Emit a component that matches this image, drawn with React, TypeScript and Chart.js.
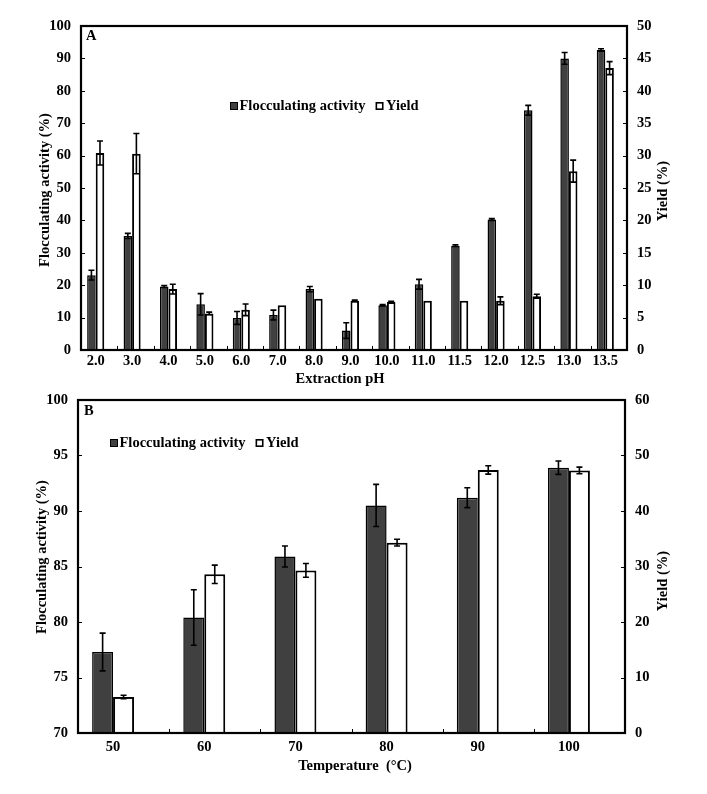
import React, { useEffect, useRef } from 'react';
import { Chart, registerables } from 'chart.js';

Chart.register(...registerables);

// ---------- Panel A data ----------
const phLabels = ['2.0', '3.0', '4.0', '5.0', '6.0', '7.0', '8.0', '9.0', '10.0', '11.0', '11.5', '12.0', '12.5', '13.0', '13.5'];
const flocA = [23.1, 35.2, 19.6, 14.1, 9.9, 10.8, 18.8, 6.0, 13.8, 20.3, 32.2, 40.3, 74.0, 90.0, 92.6];
const flocAErr = [1.5, 0.8, 0.3, 3.3, 2.0, 1.5, 0.8, 2.4, 0.2, 1.5, 0.3, 0.3, 1.5, 1.8, 0.4];
const yieldA = [30.4, 30.3, 9.4, 5.65, 6.2, 6.9, 7.9, 7.6, 7.4, 7.6, 7.6, 7.6, 8.3, 27.6, 43.5];
const yieldAErr = [1.85, 3.1, 0.75, 0.2, 0.9, 0, 0, 0.1, 0.1, 0, 0, 0.6, 0.3, 1.7, 1.0];
const leftTicksA = [0, 100, 10];
const rightTicksA = [0, 50, 5];

// ---------- Panel B data ----------
const tempLabels = ['50', '60', '70', '80', '90', '100'];
const flocB = [77.3, 80.4, 85.9, 90.5, 91.2, 93.9];
const flocBErr = [1.7, 2.5, 0.95, 1.9, 0.9, 0.6];
const yieldB = [6.5, 28.6, 29.3, 34.3, 47.4, 47.3];
const yieldBErr = [0.3, 1.65, 1.25, 0.6, 0.75, 0.6];
const leftTicksB = [70, 100, 5];
const rightTicksB = [0, 60, 10];

const SERIF = '"Liberation Serif", "Times New Roman", serif';
const FS = 14.5;
const boldFont = `bold ${FS}px ${SERIF}`;
const DARK = '#404040';

type PanelCfg = {
  top: number;
  width: number;
  height: number;
  labels: string[];
  floc: number[];
  flocErr: number[];
  yld: number[];
  yldErr: number[];
  left: number[];
  right: number[];
  shift: number;
  catPct: number;
  padTop: number;
  leftW: number;
  rightW: number;
  xH: number;
  xPad: number;
  letter: string;
  letterPos: [number, number];
  legendPos: [number, number];
  leftTitlePos: [number, number];
  rightTitlePos: [number, number];
  xTitle: string;
  xTitlePos: [number, number];
  cap: number;
};

function makePlugin(cfg: PanelCfg) {
  return {
    id: 'decor' + cfg.letter,
    afterDatasetsDraw(chart: any) {
      const ctx = chart.ctx;
      const errs = [cfg.flocErr, cfg.yldErr];
      ctx.save();
      ctx.strokeStyle = '#000';
      ctx.lineWidth = 1.6;
      chart.data.datasets.forEach((ds: any, di: number) => {
        const meta = chart.getDatasetMeta(di);
        const ys = chart.scales[ds.yAxisID];
        meta.data.forEach((el: any, i: number) => {
          const e = errs[di][i];
          if (!e) return;
          const v = ds.data[i].y;
          const y1 = ys.getPixelForValue(v + e);
          const y2 = ys.getPixelForValue(v - e);
          const x = el.x;
          ctx.beginPath();
          ctx.moveTo(x, y1);
          ctx.lineTo(x, y2);
          ctx.moveTo(x - cfg.cap, y1);
          ctx.lineTo(x + cfg.cap, y1);
          ctx.moveTo(x - cfg.cap, y2);
          ctx.lineTo(x + cfg.cap, y2);
          ctx.stroke();
        });
      });
      ctx.restore();
    },
    afterDraw(chart: any) {
      const ctx = chart.ctx;
      const a = chart.chartArea;
      ctx.save();
      // frame
      ctx.strokeStyle = '#000';
      ctx.lineWidth = 2.2;
      ctx.strokeRect(a.left, a.top, a.right - a.left, a.bottom - a.top);
      // inward ticks
      ctx.lineWidth = 1;
      const yl = chart.scales.yL;
      const yr = chart.scales.yR;
      const xs = chart.scales.x;
      ctx.beginPath();
      yl.ticks.forEach((t: any) => {
        const y = Math.round(yl.getPixelForValue(t.value)) + 0.5;
        ctx.moveTo(a.left, y);
        ctx.lineTo(a.left + 4, y);
      });
      yr.ticks.forEach((t: any) => {
        const y = Math.round(yr.getPixelForValue(t.value)) + 0.5;
        ctx.moveTo(a.right, y);
        ctx.lineTo(a.right - 4, y);
      });
      for (let k = 1; k < cfg.labels.length; k++) {
        const x = Math.round(xs.getPixelForValue(xs.min + k)) + 0.5;
        ctx.moveTo(x, a.bottom);
        ctx.lineTo(x, a.bottom - 4);
      }
      ctx.stroke();

      // texts
      ctx.fillStyle = '#000';
      ctx.font = boldFont;
      ctx.textBaseline = 'middle';
      ctx.textAlign = 'left';
      ctx.fillText(cfg.letter, cfg.letterPos[0], cfg.letterPos[1]);

      // legend
      const [lx, ly] = cfg.legendPos;
      const sq = 8;
      ctx.fillStyle = DARK;
      ctx.fillRect(lx, ly - sq / 2, sq, sq);
      ctx.strokeStyle = '#000';
      ctx.lineWidth = 1;
      ctx.strokeRect(lx + 0.5, ly - sq / 2 + 0.5, sq - 1, sq - 1);
      ctx.fillStyle = '#000';
      const t1 = 'Flocculating activity';
      ctx.fillText(t1, lx + sq + 1.5, ly);
      const w1 = ctx.measureText(t1).width;
      const x2 = lx + sq + 1.5 + w1 + 10;
      ctx.fillStyle = '#fff';
      ctx.fillRect(x2, ly - sq / 2, sq, sq);
      ctx.lineWidth = 1.6;
      ctx.strokeRect(x2 + 0.8, ly - sq / 2 + 0.8, sq - 1.6, sq - 1.6);
      ctx.fillStyle = '#000';
      ctx.fillText('Yield', x2 + sq + 2.5, ly);

      // axis titles
      ctx.textAlign = 'center';
      ctx.fillText(cfg.xTitle, cfg.xTitlePos[0], cfg.xTitlePos[1]);
      const rot = (txt: string, p: [number, number]) => {
        ctx.save();
        ctx.translate(p[0], p[1]);
        ctx.rotate(-Math.PI / 2);
        ctx.fillText(txt, 0, 0);
        ctx.restore();
      };
      rot('Flocculating activity (%)', cfg.leftTitlePos);
      rot('Yield (%)', cfg.rightTitlePos);
      ctx.restore();
    },
  };
}

function Panel({ cfg }: { cfg: PanelCfg }) {
  const ref = useRef<HTMLCanvasElement | null>(null);
  useEffect(() => {
    if (!ref.current) return;
    const n = cfg.labels.length;
    const tickFont = { family: SERIF, size: FS, weight: 'bold' as const };
    const chart = new Chart(ref.current, {
      type: 'bar',
      data: {
        datasets: [
          {
            label: 'Flocculating activity',
            data: cfg.floc.map((y, i) => ({ x: i, y })),
            yAxisID: 'yL',
            backgroundColor: DARK,
            borderColor: '#000',
            borderWidth: 1.5,
            barPercentage: 1,
            categoryPercentage: cfg.catPct,
          },
          {
            label: 'Yield',
            data: cfg.yld.map((y, i) => ({ x: i, y })),
            yAxisID: 'yR',
            backgroundColor: '#fff',
            borderColor: '#000',
            borderWidth: 2,
            barPercentage: 1,
            categoryPercentage: cfg.catPct,
          },
        ],
      },
      options: {
        animation: false,
        responsive: false,
        devicePixelRatio: 1,
        layout: { padding: { top: cfg.padTop, left: 0, right: 0, bottom: 0 } },
        plugins: { legend: { display: false }, tooltip: { enabled: false } },
        scales: {
          x: {
            type: 'linear',
            offset: false,
            min: -0.5 + cfg.shift,
            max: n - 0.5 + cfg.shift,
            grid: { display: false, drawTicks: false, offset: false },
            border: { display: false },
            afterBuildTicks: (s: any) => {
              s.ticks = cfg.labels.map((_, i) => ({ value: i }));
            },
            afterFit: (s: any) => {
              s.height = cfg.xH;
            },
            ticks: {
              autoSkip: false,
              maxRotation: 0,
              minRotation: 0,
              padding: cfg.xPad,
              color: '#000',
              font: tickFont,
              callback: (v: any) => cfg.labels[Math.round(Number(v))] ?? '',
            },
          },
          yL: {
            type: 'linear',
            position: 'left',
            min: cfg.left[0],
            max: cfg.left[1],
            grid: { display: false, drawTicks: false },
            border: { display: false },
            afterFit: (s: any) => {
              s.width = cfg.leftW;
            },
            ticks: { stepSize: cfg.left[2], padding: 10, color: '#000', font: tickFont },
          },
          yR: {
            type: 'linear',
            position: 'right',
            min: cfg.right[0],
            max: cfg.right[1],
            grid: { display: false, drawTicks: false },
            border: { display: false },
            afterFit: (s: any) => {
              s.width = cfg.rightW;
            },
            ticks: { stepSize: cfg.right[2], padding: 10, color: '#000', font: tickFont },
          },
        },
      } as any,
      plugins: [makePlugin(cfg)],
    });
    return () => chart.destroy();
  }, [cfg]);
  return (
    <canvas
      ref={ref}
      width={cfg.width}
      height={cfg.height}
      style={{ position: 'absolute', left: 0, top: cfg.top, display: 'block', width: cfg.width, height: cfg.height }}
    />
  );
}

const cfgA: PanelCfg = {
  top: 0,
  width: 707,
  height: 395,
  labels: phLabels,
  floc: flocA,
  flocErr: flocAErr,
  yld: yieldA,
  yldErr: yieldAErr,
  left: leftTicksA,
  right: rightTicksA,
  shift: 0.096,
  catPct: 0.47,
  padTop: 26,
  leftW: 81,
  rightW: 80,
  xH: 45,
  xPad: 3,
  letter: 'A',
  letterPos: [86, 36],
  legendPos: [230, 106],
  leftTitlePos: [45, 190],
  rightTitlePos: [663, 191],
  xTitle: 'Extraction pH',
  xTitlePos: [340, 379],
  cap: 3,
};

const cfgB: PanelCfg = {
  top: 380,
  width: 707,
  height: 414,
  labels: tempLabels,
  floc: flocB,
  flocErr: flocBErr,
  yld: yieldB,
  yldErr: yieldBErr,
  left: leftTicksB,
  right: rightTicksB,
  shift: 0.115,
  catPct: 0.46,
  padTop: 20,
  leftW: 78,
  rightW: 82,
  xH: 61,
  xPad: 6,
  letter: 'B',
  letterPos: [84, 31],
  legendPos: [110, 63],
  leftTitlePos: [42, 177],
  rightTitlePos: [663, 201],
  xTitle: 'Temperature  (°C)',
  xTitlePos: [355, 386],
  cap: 3,
};

export default function App() {
  return (
    <div style={{ position: 'absolute', left: 0, top: 0, width: 707, height: 794, background: '#fff' }}>
      <Panel cfg={cfgA} />
      <Panel cfg={cfgB} />
    </div>
  );
}
